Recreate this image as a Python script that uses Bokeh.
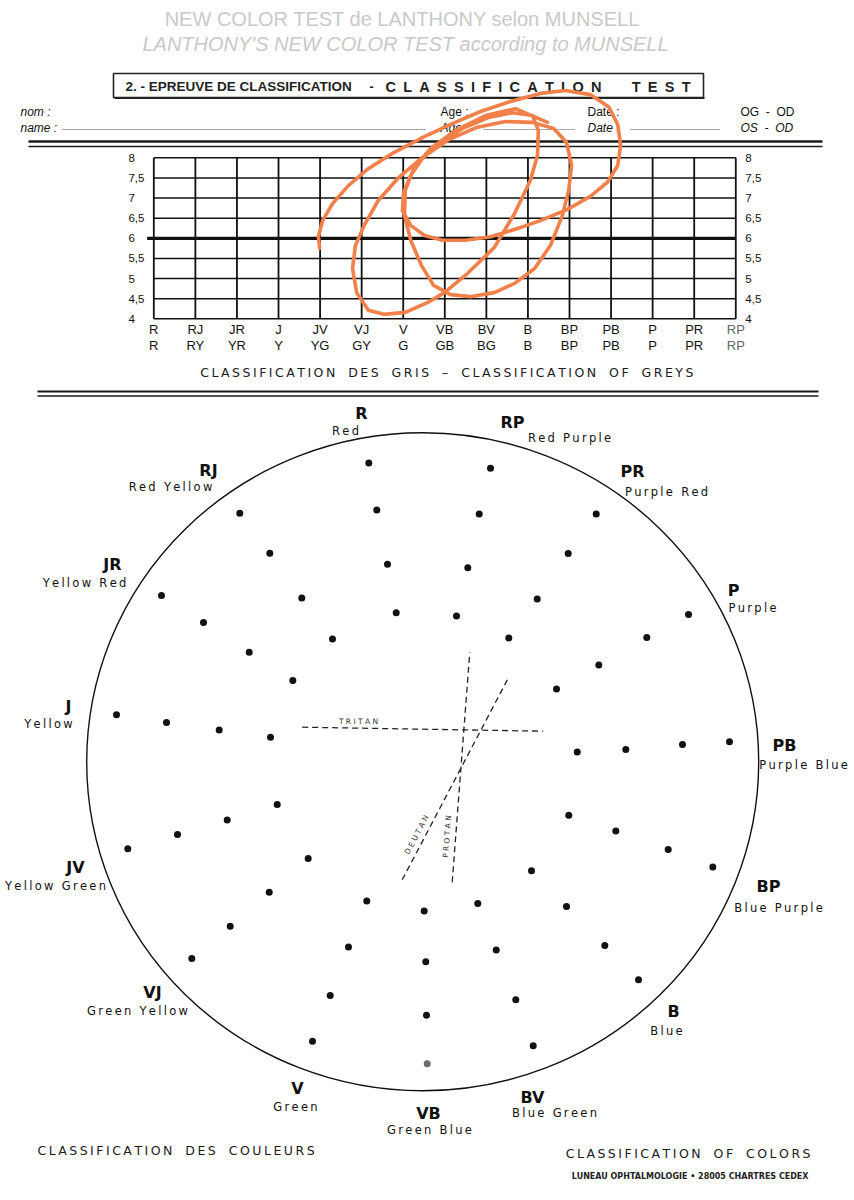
from bokeh.plotting import figure
from bokeh.models import Range1d
from bokeh.core.properties import value
from bokeh.embed import file_html
from bokeh.resources import INLINE

# ------------------------------------------------------------------ data
# Grey classification (hue categories x Munsell value)
hues_fr = ["R", "RJ", "JR", "J", "JV", "VJ", "V", "VB", "BV", "B", "BP", "PB", "P", "PR", "RP"]
hues_en = ["R", "RY", "YR", "Y", "YG", "GY", "G", "GB", "BG", "B", "BP", "PB", "P", "PR", "RP"]
value_ticks = [4.0, 4.5, 5.0, 5.5, 6.0, 6.5, 7.0, 7.5, 8.0]
value_labels = ["4", "4,5", "5", "5,5", "6", "6,5", "7", "7,5", "8"]
neutral_value = 6.0

# hand-drawn orange trace (hue index, value)
scribble_hue = [3.99, 3.96, 4.06, 4.30, 4.68, 5.16, 5.74, 6.42, 7.14, 7.86, 8.58, 9.30, 9.90, 10.50,
                10.94, 11.16, 11.23, 11.16, 10.91, 10.50, 9.95, 9.30, 8.68, 8.10, 7.50, 6.95, 6.51,
                6.18, 5.98, 6.01, 6.18, 6.46, 6.90, 7.43, 8.05, 8.63, 9.11, 9.25, 9.23, 9.06, 8.68,
                8.19, 7.55, 6.99, 6.58, 6.05, 5.53, 5.16, 4.88, 4.78, 4.85, 5.07, 5.40, 5.89, 6.46,
                7.09, 7.76, 8.46, 9.11, 9.62, 9.93, 10.05, 9.98, 9.83, 9.54, 9.16, 8.68, 8.19, 7.62,
                7.14, 6.73, 6.44, 6.18, 6.03, 6.05, 6.25, 6.66, 7.26, 7.98, 8.70, 9.47]
scribble_value = [5.75, 6.04, 6.44, 6.86, 7.31, 7.73, 8.11, 8.48, 8.83, 9.15, 9.40, 9.60, 9.67, 9.57,
                  9.27, 8.83, 8.31, 7.81, 7.39, 7.04, 6.72, 6.44, 6.22, 6.04, 5.95, 5.95, 6.07,
                  6.32, 6.69, 7.14, 7.56, 7.98, 8.38, 8.73, 9.00, 9.12, 9.05, 8.68, 8.06, 7.44, 6.62,
                  5.77, 5.13, 4.65, 4.40, 4.16, 4.11, 4.21, 4.65, 5.25, 5.82, 6.34, 6.94, 7.51, 8.01,
                  8.45, 8.75, 8.90, 8.88, 8.73, 8.38, 7.81, 7.19, 6.57, 5.82, 5.25, 4.88, 4.65, 4.55,
                  4.60, 4.83, 5.32, 5.95, 6.57, 7.19, 7.73, 8.23, 8.68, 9.05, 9.22, 8.88]

# Colour classification circle: cap positions (circle centre = 0,0)
cap_x = [-53.9, -182.9, -45.9, -152.9, -35.2, -261.2, -120.9, -219.2, -26.5, -90.2, -173.5, -129.9,
         -306.2, -256.2, -203.5, -152.2, -145.5, -195.5, -245.2, -294.9, -114.5, -153.5, -55.9, 1.5,
         -192.5, -74.2, 3.1, -230.9, -92.5, 3.8, -110.2,
         67.8, 56.5, 173.5, 145.5, 45.1, 114.5, 33.8, 265.8, 86.1, 224.1, 176.1, 133.8, 154.5, 203.1,
         259.8, 306.8, 146.1, 193.1, 245.5, 290.1, 108.8, 55.1, 143.8, 73.5, 182.1, 215.8, 93.1, 110.5,
         4.5]
cap_y = [298.9, 248.6, 251.9, 208.6, 197.6, 166.2, 163.7, 139.3, 149.1, 122.9, 109.5, 81.3,
         47.0, 39.3, 31.9, 24.6, -42.8, -58.3, -72.6, -86.9, -96.7, -130.5, -139.1, -149.3,
         -164.4, -185.2, -199.9, -196.7, -233.8, -253.4, -279.5,
         293.5, 247.8, 247.8, 208.2, 194.0, 162.9, 145.8, 147.4, 123.7, 124.2, 96.8, 72.7, 9.9, 12.3,
         17.2, 20.1, -53.4, -69.3, -87.7, -105.2, -108.9, -141.6, -144.8, -188.1, -183.6, -217.9, -237.9, -284.0,
         -302.0]

# confusion axes
axis_names = ["TRITAN", "PROTAN", "DEUTAN"]
axis_x0 = [-120.5, 29.5, -20.5]
axis_y0 = [34.6, -120.4, -118.0]
axis_x1 = [120.5, 47.1, 85.5]
axis_y1 = [30.6, 109.6, 83.6]

circle_abbr = ["R", "RP", "PR", "P", "PB", "BP", "B", "BV", "VB", "V", "VJ", "JV", "J", "JR", "RJ"]
circle_names = ["Red", "Red Purple", "Purple Red", "Purple", "Purple Blue", "Blue Purple", "Blue",
                "Blue Green", "Green Blue", "Green", "Green Yellow", "Yellow Green", "Yellow",
                "Yellow Red", "Red Yellow"]

# ------------------------------------------------------------------ layout
abbr_x = [-61.2, 89.8, 209.8, 310.8, 361.8, 345.8, 250.8, 109.8, 5.8, -125.2, -270.2, -347.2, -354.2, -310.2, -214.2]
abbr_y = [348.3, 339.3, 290.3, 171.3, 16.3, -124.7, -249.7, -335.7, -351.7, -326.7, -230.7, -105.7, 55.3, 197.3, 291.3]
name_x = [-77.2, 146.8, 243.8, 329.8, 380.8, 355.8, 243.8, 131.8, 6.8, -127.2, -285.2, -367.2, -374.2, -338.2, -252.2]
name_y = [331.3, 324.3, 270.3, 154.3, -2.7, -145.7, -268.7, -350.7, -367.7, -344.7, -248.7, -123.7, 38.3, 179.3, 275.3]

W, H = 854, 1200
p = figure(width=W, height=H,
           x_range=Range1d(-422.2, 431.8), y_range=Range1d(-438.7, 761.3),
           output_backend="svg", toolbar_location=None,
           x_axis_location=None, y_axis_location=None, min_border=0)
p.outline_line_color = None
p.grid.visible = False
p.background_fill_color = "white"
p.border_fill_color = "white"
p.extra_x_ranges = {"hue": Range1d(-3.688, 16.856), "page_x": Range1d(0, W)}
p.extra_y_ranges = {"val": Range1d(-17.906, 11.908), "page_y": Range1d(H, 0)}

PG = dict(x_range_name="page_x", y_range_name="page_y")
GV = dict(x_range_name="hue", y_range_name="val")

THIN = "\u2009"
NB = "\u00a0"


def spaced(s, sep=THIN, gap=NB + NB):
    return sep.join(gap if c == " " else c for c in s)


def txt(x, y, s, size, rng=None, font="Liberation Sans", style="normal", color="#111111",
        align="center", baseline="middle", angle=0.0):
    kw = rng if rng else {}
    p.text(x=x, y=y, text=s, text_font=value(font), text_font_size=f"{size}px",
           text_font_style=style, text_color=color, text_align=align,
           text_baseline=baseline, angle=angle, **kw)


# ------------------------------------------------------------------ header
txt([402], [18], ["NEW COLOR TEST de LANTHONY selon MUNSELL"], 20, PG, color="#c9c9c9")
txt([405], [43], ["LANTHONY'S NEW COLOR TEST according to MUNSELL"], 20, PG, style="italic", color="#c9c9c9")
p.quad(left=[113], right=[703], top=[73], bottom=[97], fill_color=None, line_color="#222222",
       line_width=1.6, **PG)
p.segment(x0=[114], y0=[97.5], x1=[704], y1=[97.5], line_color="#222222", line_width=2, **PG)
EN = "\u2002"
txt([125], [86], ["2. - EPREUVE DE CLASSIFICATION"], 13.5, PG, style="bold", align="left", color="#222222")
txt([371], [86], ["-"], 13.5, PG, style="bold", color="#222222")
txt([385], [86], [EN.join("CLASSIFICATION")], 14.5, PG, style="bold", align="left", color="#222222")
txt([690], [86], [EN.join("TEST")], 14.5, PG, style="bold", align="right", color="#222222")

txt([20], [111], ["nom :"], 12, PG, style="italic", align="left")
txt([20], [127], ["name :"], 12, PG, style="italic", align="left")
txt([440], [111], ["Age :"], 12, PG, align="left")
txt([440], [127], ["Age :"], 12, PG, style="italic", align="left")
txt([587], [111], ["Date :"], 12, PG, align="left")
txt([587], [127], ["Date :"], 12, PG, style="italic", align="left")
txt([740], [111], ["OG" + NB + NB + "-" + NB + NB + "OD"], 12, PG, align="left")
txt([740], [127], ["OS" + NB + NB + "-" + NB + NB + "OD"], 12, PG, style="italic", align="left")
p.segment(x0=[62, 483, 630], y0=[129, 129, 129], x1=[425, 575, 720], y1=[129, 129, 129],
          line_color="#555555", line_width=1, line_dash="1 1", **PG)

# double rules
p.segment(x0=[28, 28, 37, 37], y0=[141, 146, 391, 395.5], x1=[822, 822, 818, 818], y1=[141, 146, 391, 395.5],
          line_color="#1a1a1a", line_width=[2.4, 1.3, 2.0, 1.6], **PG)

# ------------------------------------------------------------------ grey grid
hue_idx = list(range(len(hues_fr)))
vmin, vmax = min(value_ticks), max(value_ticks)
p.segment(x0=hue_idx, y0=[vmin] * len(hue_idx), x1=hue_idx, y1=[vmax] * len(hue_idx),
          line_color="#111111", line_width=1.8, **GV)
p.segment(x0=[hue_idx[0]] * len(value_ticks), y0=value_ticks, x1=[hue_idx[-1]] * len(value_ticks),
          y1=value_ticks, line_color="#111111", line_width=1.5, **GV)
p.segment(x0=[hue_idx[0] - 0.16], y0=[neutral_value], x1=[hue_idx[-1]], y1=[neutral_value],
          line_color="#111111", line_width=3.2, **GV)

txt([-0.61] * len(value_ticks), value_ticks, value_labels, 11.5, GV, align="left")
txt([hue_idx[-1] + 0.23] * len(value_ticks), value_ticks, value_labels, 11.5, GV, align="left")

txt(hue_idx[:-1], [3.73] * (len(hue_idx) - 1), hues_fr[:-1], 13, GV)
txt(hue_idx[:-1], [3.34] * (len(hue_idx) - 1), hues_en[:-1], 13, GV)
txt(hue_idx[-1:], [3.73], hues_fr[-1:], 13, GV, color="#666666")
txt(hue_idx[-1:], [3.34], hues_en[-1:], 13, GV, color="#666666")
txt([7.05], [2.666], [spaced("CLASSIFICATION DES GRIS \u2013 CLASSIFICATION OF GREYS")], 12.5, GV,
    font="DejaVu Sans", color="#1a1a1a")

# ------------------------------------------------------------------ colour circle
p.ellipse(x=[0], y=[0], width=[672], height=[658], fill_color=None, line_color="#111111", line_width=1.4)

p.segment(x0=axis_x0, y0=axis_y0, x1=axis_x1, y1=axis_y1, line_color="#222222", line_width=1.3,
          line_dash="6 4")
txt([-64.2], [40.3], [spaced(axis_names[0], sep=" ")], 7.5, font="DejaVu Sans", color="#333333")
txt([24.5], [-74.7], [spaced(axis_names[1], sep=" ")], 7.5, font="DejaVu Sans", color="#333333", angle=1.497)
txt([-6.0], [-73.0], [spaced(axis_names[2], sep=" ")], 7.5, font="DejaVu Sans", color="#333333", angle=1.087)

p.scatter(x=cap_x[:-1], y=cap_y[:-1], size=7, fill_color="#111111", line_color=None)
p.scatter(x=cap_x[-1:], y=cap_y[-1:], size=7, fill_color="#6a6a6a", line_color=None)

txt(abbr_x, abbr_y, circle_abbr, 16, font="DejaVu Sans", style="bold", color="#111111")
txt(name_x, name_y, [spaced(n, gap=NB) for n in circle_names], 11.5, font="DejaVu Sans", color="#111111")

txt([37], [1150], [spaced("CLASSIFICATION DES COULEURS")], 12.5, PG, font="DejaVu Sans", align="left", color="#1a1a1a")
txt([810], [1153], [spaced("CLASSIFICATION OF COLORS")], 12.5, PG, font="DejaVu Sans", align="right", color="#1a1a1a")
txt([808], [1176], ["LUNEAU OPHTALMOLOGIE \u2022 28005 CHARTRES CEDEX"], 8, PG, font="DejaVu Sans",
    style="bold", align="right", color="#222222")

# ------------------------------------------------------------------ orange trace (drawn last, on top)
p.line(x=scribble_hue, y=scribble_value, line_color="#f2804a", line_width=3.6, line_join="round",
       line_cap="round", **GV)

open("out.html", "w").write(file_html(p, INLINE))
